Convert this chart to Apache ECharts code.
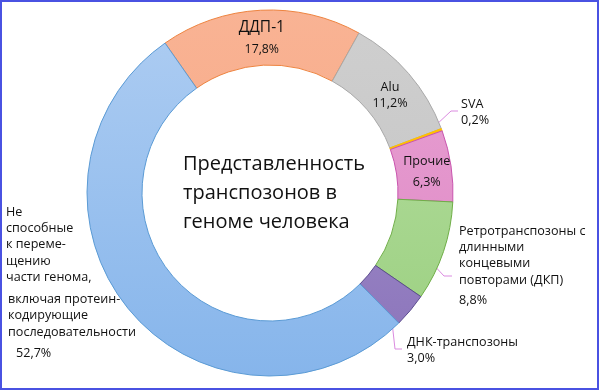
<!DOCTYPE html>
<html><head><meta charset="utf-8">
<script src="https://cdn.jsdelivr.net/npm/echarts@6/dist/echarts.min.js"></script>
<style>
html,body{margin:0;padding:0;background:#fff;}
#c{position:absolute;left:0;top:0;width:600px;height:391px;}
#frame{position:absolute;left:0;top:0;width:599px;height:390px;box-sizing:border-box;border:2px solid #4A52E2;pointer-events:none;}
</style></head>
<body>
<div id="c"></div><div id="frame"></div>
<script>
const categories = ['ДДП-1','Alu','SVA','Прочие','Ретротранспозоны с длинными концевыми повторами (ДКП)','ДНК-транспозоны','Не способные к перемещению части генома, включая протеин-кодирующие последовательности'];
const values = [17.8, 11.2, 0.2, 6.3, 8.8, 3.0, 52.7];
const labelLines = [
  ['ДДП-1'], ['Alu'], ['SVA'], ['Прочие'],
  ['Ретротранспозоны с','длинными','концевыми','повторами (ДКП)'],
  ['ДНК-транспозоны'],
  ['Не','способные','к переме-','щению','части генома,','включая протеин-','кодирующие','последовательности']
];
const titleText = 'Представленность\nтранспозонов в\nгеноме человека';

const FONT = 'Open Sans';
const FS = 12.6;
function pct(v){ return v.toFixed(1).replace('.', ',') + '%'; }
function grad(top, bottom){
  return {type:'linear', x:0, y:10, x2:0, y2:377, global:true,
    colorStops:[{offset:0,color:top},{offset:1,color:bottom}]};
}
const fills = [
  grad('#F9B394','#F6A47F'),
  grad('#CFCFCF','#C2C2C2'),
  '#FFC000',
  grad('#E8A2D3','#DE86C4'),
  grad('#B7DFA2','#9ACF7F'),
  grad('#A896CE','#8A73BA'),
  grad('#AECDF2','#86B5EB')
];
const borders = ['#EE8440','#A9A9A9','#FFC000','#C954AE','#6FAE47','#5A4A8E','#5B9BD5'];

const inside = [true, true, false, true, false, false, false];
const shift = {0: 4, 1: 5.5, 3: 2.5};
const outPos = {
  2: {x:461, y:96, pts:[[419,141],[451,111],[458,111]]},
  4: {x:459, y:223, pts:[[417,247],[444,276],[452,276]]},
  5: {x:407, y:334, pts:[[389,295],[395,349],[402,349]]},
  6: {x:6, y:204, pts:null}
};

function fmt(i){
  const L = labelLines[i], p = pct(values[i]);
  if (i === 0) return '{big|' + L[0] + '}\n{sm|' + p + '}';
  if (i === 1) return '{n|' + L[0] + '}\n{n|' + p + '}';
  if (i === 3) return '{n21|' + L[0] + '}\n{n21|' + p + '}';
  if (i === 4) return L.map(s => '{o|' + s + '}').join('\n') + '\n{op|' + p + '}';
  if (i === 2 || i === 5) return L.map(s => '{o|' + s + '}').join('\n') + '\n{o|' + p + '}';
  const lh = ['o','o','o','o','o','b27','b6','b27'];
  return L.map((s,k) => '{' + lh[k] + '|' + s + '}').join('\n') + '\n{bp|' + p + '}';
}

const base = {fontFamily:FONT,fontSize:FS,color:'#111'};
const rich = {
  big:Object.assign({}, base, {fontSize:15.5,lineHeight:22}),
  sm:Object.assign({}, base, {fontSize:12.3,lineHeight:22}),
  n:Object.assign({}, base, {lineHeight:16}),
  n21:Object.assign({}, base, {lineHeight:21}),
  o:Object.assign({}, base, {lineHeight:16.3}),
  op:Object.assign({}, base, {lineHeight:25}),
  b27:Object.assign({}, base, {lineHeight:27,padding:[0,0,0,2]}),
  b6:Object.assign({}, base, {lineHeight:6,padding:[0,0,0,2]}),
  bp:Object.assign({}, base, {lineHeight:16,padding:[0,0,0,10]})
};

const data = categories.map((name, i) => ({
  name: name,
  value: values[i],
  itemStyle: {color: fills[i], borderColor: borders[i], borderWidth: 1},
  label: {
    show: true,
    position: inside[i] ? 'inside' : 'outside',
    formatter: fmt(i),
    rich: rich,
    align: inside[i] ? 'center' : 'left'
  },
  labelLine: {show: !inside[i] && i !== 6, lineStyle:{color:'#DB8BE0', width:1}}
}));

const chart = echarts.init(document.getElementById('c'), null, {renderer:'canvas'});
chart.setOption({
  animation:false,
  backgroundColor:'#ffffff',
  title:{
    text:titleText, left:178, top:145,
    textStyle:{fontFamily:FONT,fontSize:20,fontWeight:'normal',color:'#111',lineHeight:29}
  },
  series:[{
    type:'pie',
    center:[270,193],
    radius:[128,183],
    startAngle:125,
    clockwise:true,
    avoidLabelOverlap:false,
    minAngle:0,
    emphasis:{disabled:true},
    data:data,
    labelLayout: function(params){
      const i = params.dataIndex;
      if (shift[i] !== undefined) return {dy: shift[i]};
      const o = outPos[i];
      if (!o) return {};
      const r = {x:o.x, y:o.y, align:'left', verticalAlign:'top'};
      if (o.pts) r.labelLinePoints = o.pts;
      return r;
    }
  }]
});
</script>
</body></html>
